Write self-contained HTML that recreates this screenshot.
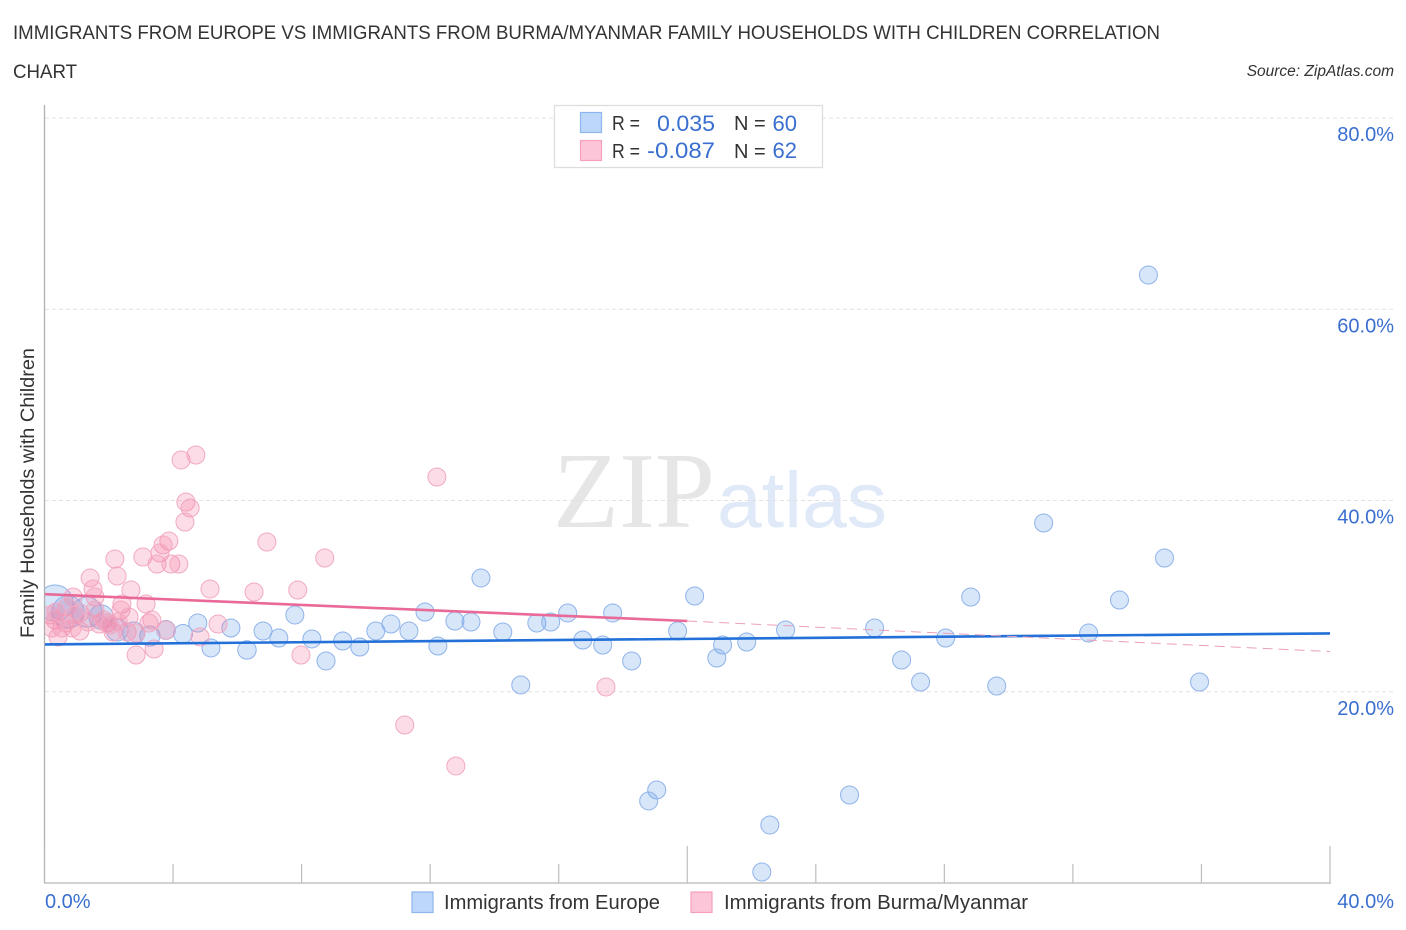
<!DOCTYPE html>
<html lang="en">
<head>
<meta charset="utf-8">
<title>Immigrants from Europe vs Immigrants from Burma/Myanmar Family Households with Children Correlation Chart</title>
<style>
html,body{margin:0;padding:0;background:#fff;}
svg{display:block;font-family:"Liberation Sans",sans-serif;}
</style>
</head>
<body>
<svg id="chart" xmlns="http://www.w3.org/2000/svg" width="1406" height="930" viewBox="0 0 1406 930">
  <defs>
    <clipPath id="plot-clip"><rect x="45" y="105" width="1300" height="778"/></clipPath>
  </defs>
  <rect x="0" y="0" width="1406" height="930" fill="#ffffff"/>
  <text x="13" y="39" font-size="19.5" fill="#333333" textLength="1147" lengthAdjust="spacingAndGlyphs">IMMIGRANTS FROM EUROPE VS IMMIGRANTS FROM BURMA/MYANMAR FAMILY HOUSEHOLDS WITH CHILDREN CORRELATION</text>
  <text x="13" y="78" font-size="19.5" fill="#333333" textLength="64" lengthAdjust="spacingAndGlyphs">CHART</text>
  <text x="1394" y="76" font-size="15.5" font-style="italic" fill="#333333" text-anchor="end">Source: ZipAtlas.com</text>
  <g>
    <text x="553" y="527" font-family="'Liberation Serif',serif" font-size="108" fill="#e6e6e6" textLength="162" lengthAdjust="spacingAndGlyphs">ZIP</text>
    <text x="717" y="527" font-family="'Liberation Sans',sans-serif" font-size="79" fill="#dfe9f8" textLength="170" lengthAdjust="spacingAndGlyphs">atlas</text>
  </g>
  <g id="grid"></g>
  <g id="axes"></g>
  <g clip-path="url(#plot-clip)">
    <g id="points-europe"></g>
    <g id="points-burma"></g>
    <g id="trends"></g>
  </g>
  <text transform="translate(34,638) rotate(-90)" font-size="19.5" fill="#333333" textLength="290" lengthAdjust="spacingAndGlyphs">Family Households with Children</text>

  <g>
    <rect x="554.5" y="105.5" width="268" height="62" fill="#ffffff" stroke="#dddddd" stroke-width="1.3"/>
    <rect x="580.5" y="112.5" width="21" height="20" fill="#bdd7fb" stroke="#8cb6ee" stroke-width="1.2"/>
    <rect x="580.5" y="140.5" width="21" height="20" fill="#fcc5d8" stroke="#f5a0bd" stroke-width="1.2"/>
    <text x="612" y="130" font-size="20" fill="#333333" textLength="28" lengthAdjust="spacingAndGlyphs">R =</text>
    <text x="657" y="131" font-size="22" fill="#3a6fd0" textLength="58" lengthAdjust="spacingAndGlyphs">0.035</text>
    <text x="734" y="130" font-size="20" fill="#333333">N =</text>
    <text x="797" y="131" font-size="22" fill="#3a6fd0" text-anchor="end">60</text>
    <text x="612" y="158" font-size="20" fill="#333333" textLength="28" lengthAdjust="spacingAndGlyphs">R =</text>
    <text x="647" y="158" font-size="22" fill="#3a6fd0" textLength="68" lengthAdjust="spacingAndGlyphs">-0.087</text>
    <text x="734" y="158" font-size="20" fill="#333333">N =</text>
    <text x="797" y="158" font-size="22" fill="#3a6fd0" text-anchor="end">62</text>
  </g>

  <g>
    <rect x="412" y="892" width="21" height="20.5" fill="#bdd7fb" stroke="#8cb6ee" stroke-width="1.2"/>
    <text x="444" y="909" font-size="20" fill="#333333" textLength="216" lengthAdjust="spacingAndGlyphs">Immigrants from Europe</text>
    <rect x="691" y="892" width="21" height="20.5" fill="#fcc5d8" stroke="#f5a0bd" stroke-width="1.2"/>
    <text x="724" y="909" font-size="20" fill="#333333" textLength="304" lengthAdjust="spacingAndGlyphs">Immigrants from Burma/Myanmar</text>
  </g>
</svg>
<script>
var xTickValues = [0, 4, 8, 12, 16, 20, 24, 28, 32, 36, 40];
var xMajorTicks = [0, 20, 40];
var xTickLabels = ["0.0%", "40.0%"];
var yTickValues = [20, 40, 60, 80];
var yTickLabels = ["20.0%", "40.0%", "60.0%", "80.0%"];

var europeX = [0.33,0.73,1.32,1.76,34.35,31.09,34.85,13.58,20.23,28.82,33.45,7.79,11.84,12.77,13.27,16.28,17.68,15.32,15.75,4.77,5.80,10.78,6.80,10.31,11.34,7.29,8.32,9.28,9.81,12.24,14.26,16.75,17.37,19.70,23.06,25.83,28.04,32.49,21.10,21.85,20.92,18.27,26.67,8.76,6.30,5.18,4.31,3.28,3.78,2.78,2.26,14.82,27.26,29.63,35.94,19.05,18.80,25.05,22.57,22.32];
var europeY = [29.28,28.34,28.34,27.82,63.58,37.65,33.99,31.90,30.01,29.91,29.59,28.03,28.34,27.40,27.29,28.24,28.24,27.19,27.29,27.19,26.67,27.08,26.35,26.35,26.35,25.62,25.52,25.31,24.68,24.78,26.25,25.41,24.89,26.35,26.46,26.67,25.62,26.14,24.89,25.20,23.53,23.22,23.32,23.22,24.37,24.58,26.04,25.83,26.46,26.14,26.46,20.71,21.02,20.60,21.02,9.73,8.58,9.20,6.07,1.15];
var europeWeights = [4,3.2,2.8,1.8,1,1,1,1,1,1,1,1,1,1,1,1,1,1,1,1,1,1,1,1,1,1,1,1,1,1,1,1,1,1,1,1,1,1,1,1,1,1,1,1,1.05,1,1.1,1.25,1.1,1.5,1.5,1,1,1,1,1,1,1,1,1];

var burmaX = [4.25,4.71,4.40,4.53,4.37,6.92,3.87,3.69,3.59,3.06,2.19,2.26,3.50,3.93,4.18,8.72,5.15,6.52,7.88,1.42,1.51,2.69,1.57,0.89,2.41,3.16,2.38,2.63,3.34,3.25,5.40,4.84,1.70,1.94,2.13,2.57,2.85,1.10,0.42,0.54,0.17,0.33,0.70,1.10,0.64,2.85,3.41,7.98,3.78,12.21,11.21,12.80,17.47,0.95,1.35,1.85,0.36,0.86,1.57,2.29,0.23,2.04];
var burmaY = [44.24,44.76,39.84,39.22,37.75,35.66,35.76,35.35,34.51,34.09,33.88,32.10,33.36,33.36,33.36,33.99,30.75,30.43,30.64,31.90,30.75,30.64,29.91,29.91,29.18,29.18,28.55,27.82,27.50,27.19,27.08,25.73,27.08,27.19,26.25,26.25,26.14,26.35,25.73,26.67,28.03,27.50,28.86,28.24,27.19,23.84,24.47,23.84,26.46,42.46,16.52,12.24,20.50,28.03,27.29,27.50,28.34,26.67,28.55,27.29,26.67,26.98];

var europeTrendX = [0, 40];
var europeTrendY = [24.95, 26.1];
var burmaTrendX = [0, 20];
var burmaTrendY = [30.2, 27.4];
var burmaTrendDashedX = [20, 40];
var burmaTrendDashedY = [27.4, 24.2];

var NS = "http://www.w3.org/2000/svg";
function xScale(v) { return 44.5 + v * (1330 - 44.5) / 40; }
function yScale(v) { return 883 - v * (883 - 118) / 80; }
function radius(w) { return 9 * Math.sqrt(w); }
function make(tag, attrs, parent) {
  var el = document.createElementNS(NS, tag);
  for (var k in attrs) { el.setAttribute(k, attrs[k]); }
  parent.appendChild(el);
  return el;
}

var grid = document.getElementById("grid");
var axes = document.getElementById("axes");

yTickValues.forEach(function (v, i) {
  var line = make("line", { x1: 45, x2: 1394, y1: yScale(v), y2: yScale(v), stroke: "#e2e2e2", "stroke-width": 1, "stroke-dasharray": "4 3" }, grid);
  
  
  var label = make("text", { x: 1394, y: yScale(v) + 23, "font-size": 20, fill: "#3a6fd0", "text-anchor": "end" }, axes);
  
  
  label.textContent = yTickLabels[i];
});

var yAxis = make("line", { x1: 44.5, x2: 44.5, y1: 105, y2: 883.5, stroke: "#b0b0b0", "stroke-width": 1.3 }, axes);


var xAxis = make("line", { x1: 44, x2: 1331, y1: 883, y2: 883, stroke: "#c4c4c4", "stroke-width": 1.5 }, axes);



xTickValues.forEach(function (v) {
  var major = xMajorTicks.indexOf(v) >= 0;
  var tick = make("line", { x1: xScale(v), x2: xScale(v), y1: major ? 846 : 864, y2: 883, stroke: "#bdbdbd", "stroke-width": 1.2 }, axes);
  
  
});

var xLabelLeft = make("text", { x: 45, y: 908, "font-size": 20, fill: "#3a6fd0" }, axes);


xLabelLeft.textContent = xTickLabels[0];
var xLabelRight = make("text", { x: 1394, y: 908, "font-size": 20, fill: "#3a6fd0", "text-anchor": "end" }, axes);


xLabelRight.textContent = xTickLabels[1];

var europeGroup = document.getElementById("points-europe");
europeX.forEach(function (v, i) {
  var dot = make("circle", { cx: xScale(v), cy: yScale(europeY[i]), r: radius(europeWeights[i]), fill: "rgba(110,165,235,0.28)", stroke: "#8fb3ea", "stroke-width": 1 }, europeGroup);
  
  
});

var burmaGroup = document.getElementById("points-burma");
burmaX.forEach(function (v, i) {
  var dot = make("circle", { cx: xScale(v), cy: yScale(burmaY[i]), r: 9, fill: "rgba(245,130,165,0.27)", stroke: "#f2a9c2", "stroke-width": 1 }, burmaGroup);
  
  
});

var trends = document.getElementById("trends");
var trendBlue = make("line", { x1: xScale(europeTrendX[0]), x2: xScale(europeTrendX[1]), y1: yScale(europeTrendY[0]), y2: yScale(europeTrendY[1]), stroke: "#2270d8", "stroke-width": 2.6 }, trends);


var trendPink = make("line", { x1: xScale(burmaTrendX[0]), x2: xScale(burmaTrendX[1]), y1: yScale(burmaTrendY[0]), y2: yScale(burmaTrendY[1]), stroke: "#e96a98", "stroke-width": 2.6 }, trends);


var trendDash = make("line", { x1: xScale(burmaTrendDashedX[0]), x2: xScale(burmaTrendDashedX[1]), y1: yScale(burmaTrendDashedY[0]), y2: yScale(burmaTrendDashedY[1]), stroke: "#e9a0bb", "stroke-width": 1, "stroke-dasharray": "10 6" }, trends);


</script>
</body>
</html>
